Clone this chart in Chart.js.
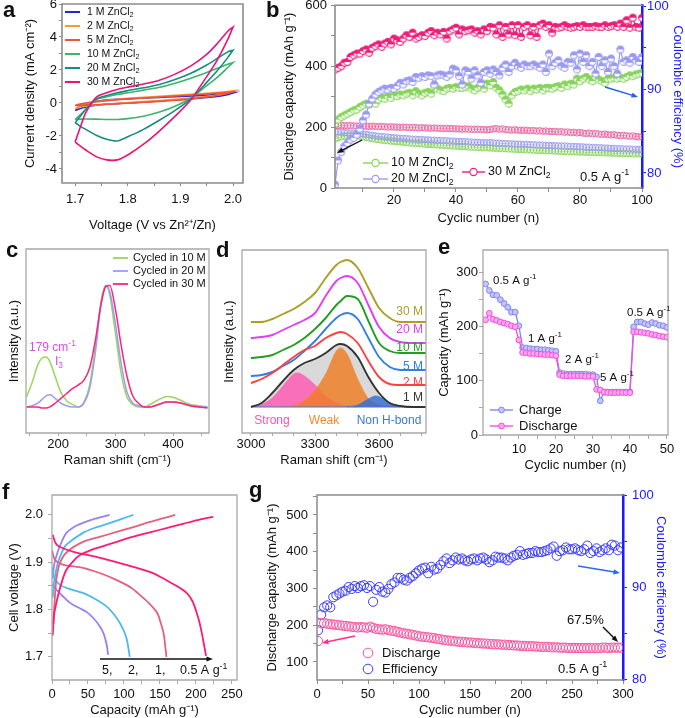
<!DOCTYPE html>
<html>
<head>
<meta charset="utf-8">
<title>ZnCl2 electrolyte figure</title>
<script src="https://cdn.jsdelivr.net/npm/chart.js@4.4.1/dist/chart.umd.min.js"></script>
<style>
  html, body { margin:0; padding:0; background:#ffffff; width:685px; height:718px; overflow:hidden; }
  canvas { position:absolute; display:block; }
</style>
</head>
<body>
<canvas id="cA"></canvas>
<canvas id="cB"></canvas>
<canvas id="cC"></canvas>
<canvas id="cD"></canvas>
<canvas id="cE"></canvas>
<canvas id="cF"></canvas>
<canvas id="cG"></canvas>
<script>
// ================= DATA =================
// (a) cyclic voltammetry: voltage sweep (forward then reverse) and current densities
const cvVoltage = [1.700,1.705,1.710,1.720,1.740,1.760,1.780,1.800,1.830,1.860,1.890,1.920,1.950,1.970,1.990,2.000,
                   2.000,1.990,1.970,1.950,1.920,1.890,1.860,1.830,1.800,1.780,1.760,1.740,1.720,1.710,1.705,1.700];
const cv1M  = [-0.45,-0.35,-0.25,-0.10,0.10,0.18,0.22,0.25,0.30,0.34,0.38,0.42,0.47,0.52,0.57,0.60,
               0.60,0.50,0.40,0.33,0.25,0.18,0.12,0.06,0.00,-0.04,-0.08,-0.14,-0.25,-0.33,-0.40,-0.45];
const cv2M  = [-0.35,-0.25,-0.15,-0.05,0.08,0.16,0.22,0.28,0.34,0.40,0.46,0.52,0.58,0.64,0.70,0.74,
               0.74,0.62,0.48,0.40,0.30,0.22,0.15,0.08,0.02,-0.02,-0.06,-0.12,-0.20,-0.26,-0.30,-0.35];
const cv5M  = [-0.15,-0.10,-0.05,0.00,0.08,0.14,0.20,0.25,0.30,0.36,0.42,0.48,0.55,0.60,0.65,0.68,
               0.68,0.58,0.45,0.36,0.25,0.17,0.10,0.04,-0.02,-0.05,-0.08,-0.11,-0.13,-0.14,-0.15,-0.15];
const cv10M = [-1.00,-0.85,-0.70,-0.40,0.20,0.38,0.52,0.62,0.78,0.95,1.20,1.50,1.85,2.10,2.35,2.45,
               2.45,2.15,1.55,1.05,0.30,-0.20,-0.55,-0.80,-0.95,-1.00,-1.00,-0.98,-0.97,-0.98,-0.99,-1.00];
const cv20M = [-1.20,-1.00,-0.80,-0.40,0.25,0.45,0.62,0.75,0.92,1.12,1.42,1.80,2.30,2.70,3.10,3.20,
               3.20,2.75,1.95,1.25,0.25,-0.45,-1.05,-1.60,-2.05,-2.30,-2.20,-1.95,-1.60,-1.42,-1.30,-1.20];
const cv30M = [-2.36,-1.90,-1.45,-0.60,0.35,0.62,0.82,0.96,1.15,1.38,1.75,2.25,2.95,3.60,4.35,4.60,
               4.60,3.85,2.60,1.60,0.20,-0.80,-1.70,-2.50,-3.15,-3.45,-3.45,-3.25,-2.85,-2.62,-2.50,-2.36];
const cvNames = ['1 M ZnCl_{2}','2 M ZnCl_{2}','5 M ZnCl_{2}','10 M ZnCl_{2}','20 M ZnCl_{2}','30 M ZnCl_{2}'];

// (b) cycling at 0.5 A g-1, cycles 1..100
const bCycleCount = 100;
const bCap10 = [160,165,168,170,171,172,172,171,170,168, 166,164,162,160,159,157,156,155,154,153,
  152,151,150,149,148,147,146,146,145,144, 143,143,142,141,141,140,139,139,138,137,
  137,136,136,135,134,134,133,133,132,132, 131,131,130,130,129,129,128,128,127,127,
  126,126,125,125,124,124,123,123,122,122, 122,121,121,120,120,119,119,119,118,118,
  118,117,117,117,116,116,116,115,115,115, 114,114,114,113,113,113,112,112,112,112];
const bCap20 = [185,184,183,182,181,180,180,179,178,177, 176,174,173,171,170,169,168,167,166,165,
  164,163,163,162,161,160,160,159,159,158, 158,157,157,156,156,155,155,154,154,153,
  153,152,152,151,151,150,150,149,149,148, 149,148,147,147,146,146,145,145,144,144,
  144,143,143,142,142,141,141,141,140,140, 139,139,138,138,138,137,137,136,136,135,
  135,134,134,133,133,132,132,131,131,130, 130,129,129,128,128,128,127,127,126,126];
const bCap30 = [206,205,206,205,204,205,204,203,204,203, 203,202,203,202,201,202,201,200,201,200,
  200,199,200,199,198,199,198,197,198,197, 197,196,197,196,196,195,196,195,195,194,
  194,193,194,193,193,192,193,192,192,191, 192,194,195,193,194,192,191,190,191,190,
  189,190,189,188,189,187,188,186,187,186, 185,186,184,185,183,184,182,183,181,182,
  180,179,180,178,179,177,176,177,175,174, 175,173,172,173,171,170,171,169,168,168];
const bCE10 = [85.9,86.4,86.7,86.9,87.1,87.3,87.5,87.6,87.9,88.1, 88.3,88.2,88.4,88.3,88.8,89.0,88.9,89.2,89.0,89.3,
  89.2,89.4,89.3,89.5,89.6,89.3,89.8,89.5,89.3,89.6, 89.7,89.5,90.4,90.1,89.9,89.8,90.1,90.2,90.1,90.3,
  90.2,90.2,90.3,90.4,90.1,89.9,90.2,90.3,90.1,90.7, 90.5,90.9,90.2,89.9,89.4,88.8,88.3,89.3,89.7,89.8,
  90.0,89.9,90.1,89.8,90.1,90.0,90.2,89.9,90.2,90.2, 90.1,90.3,90.4,90.2,90.6,90.4,90.7,90.6,91.3,91.0,
  91.3,91.5,91.2,91.0,91.5,91.2,91.0,90.8,91.3,91.3, 91.4,91.3,91.4,91.3,91.5,91.7,91.6,91.8,91.9,92.0];
const bCE20 = [78.6,81.5,82.5,83.2,83.6,84.0,84.2,84.6,85.3,86.3, 87.0,88.3,88.9,89.4,89.7,89.9,90.1,90.0,90.2,90.1,
  90.4,90.8,90.6,91.0,91.1,90.9,91.5,91.4,91.6,91.5, 91.7,91.6,90.6,91.7,91.8,91.7,91.5,91.8,92.5,92.3,
  91.6,90.6,92.3,92.1,91.3,92.3,91.7,90.8,92.1,92.3, 91.9,92.4,92.1,91.7,92.6,93.0,92.1,92.8,93.2,92.8,
  92.6,93.0,92.8,92.8,93.0,92.8,92.6,93.0,92.1,94.3, 92.8,93.2,93.5,92.8,92.6,93.3,93.2,94.1,92.4,94.3,
  93.3,94.1,92.8,93.3,91.9,93.9,92.8,93.5,92.1,93.7, 92.8,91.9,94.8,93.3,93.5,93.2,93.9,93.5,93.3,93.9];
const bCE30 = [92.4,92.6,92.8,93.2,93.3,93.9,94.1,94.3,94.3,94.6, 94.8,94.4,95.0,95.2,95.4,95.1,95.5,95.7,95.4,96.1,
  95.9,95.7,96.1,96.5,96.3,96.8,96.1,96.3,96.5,96.4, 96.8,97.0,96.5,96.8,96.6,96.9,96.1,97.0,97.2,97.4,
  96.6,97.2,97.0,97.1,97.2,96.8,97.0,96.6,97.2,97.0, 97.5,97.4,96.6,97.7,96.3,97.5,96.6,97.7,96.5,97.7,
  96.3,97.5,97.7,96.5,97.5,96.3,97.7,97.9,97.5,97.7, 96.8,97.5,97.4,97.5,97.7,97.5,97.4,97.5,97.6,97.5,
  97.7,97.5,97.5,97.5,97.6,97.5,97.5,97.7,97.5,97.6, 97.7,97.5,97.9,97.5,98.3,97.4,98.6,97.5,97.4,98.6];

// (c) Raman, low wavenumber (normalised)
const cShift = [145,155,165,172,179,186,195,205,215,225,235,245,255,265,275,283,290,300,310,320,330,340,350,360,375,390,400,415,430,445,460];
const c10M = [0.08,0.20,0.35,0.40,0.41,0.37,0.25,0.12,0.05,0.02,0.00,0.04,0.18,0.50,0.88,1.00,0.92,0.60,0.27,0.08,0.02,0.00,0.00,0.02,0.06,0.085,0.08,0.05,0.02,0.01,0.00];
const c20M = [0.00,0.01,0.03,0.06,0.09,0.10,0.07,0.03,0.01,0.00,0.00,0.03,0.15,0.45,0.85,1.00,0.95,0.68,0.35,0.12,0.03,0.01,0.00,0.00,0.02,0.04,0.04,0.03,0.01,0.00,0.00];
const c30M = [0.00,0.00,0.00,-0.01,-0.01,0.00,0.03,0.07,0.11,0.15,0.18,0.22,0.32,0.55,0.85,0.99,1.00,0.80,0.50,0.25,0.09,0.03,0.00,0.00,0.02,0.04,0.04,0.03,0.01,0.00,-0.01];
const cNames = ['Cycled in 10 M','Cycled in 20 M','Cycled in 30 M'];

// (d) Raman, O-H stretching (stacked, a.u.)
const dShift = [3000,3050,3100,3150,3200,3250,3300,3350,3400,3420,3450,3500,3550,3600,3650,3700,3760,3820];
const d1M  = [26,30,40,52,63,70,74,80,88,89,87,76,56,40,30,27,26,26];
const d2M  = [50,54,60,68,76,83,87,95,100,101,99,90,72,56,49,48,48,48];
const d5M  = [57,58,61,67,73,82,92,104,115,118,120,114,95,76,66,63,63,63];
const d10M = [75,76,78,83,88,95,104,115,128,132,137,134,112,90,82,80,80,80];
const d20M = [95,96,98,103,108,113,120,137,152,155,157,150,128,106,95,91,90,90];
const d30M = [111,111,114,119,124,131,140,155,168,171,173,165,145,125,115,111,111,111];
const dBase = 26;
const dStrongX = [3000,3050,3100,3150,3200,3220,3250,3300,3350,3400,3450,3500];
const dStrong  = [0.4,2.5,9,21,33,34,31,22,11,4,1,0];
const dWeakX = [3150,3200,3250,3300,3350,3400,3420,3450,3500,3550,3600,3650,3700];
const dWeak  = [0.3,1.8,6.5,17,33,56,59,53,28,8.5,2.2,0.4,0];
const dNonX = [3450,3500,3550,3585,3620,3650,3700,3750];
const dNon  = [0.1,1.9,8,11,8,4.1,0.8,0.1];

// (e) rate capability, cycles 1..50
const eCharge = [278,266,258,257,249,242,235,226,226,201, 161,160,159,158,158,157,157,156,155,154,
  115,113,112,112,112,112,112,112,111,111, 107,63,79,79,79,79,79,79,79,79,
  199,208,208,205,203,207,205,202,201,198];
const eDischarge = [212,224,213,211,208,206,204,201,199,175, 152,151,150,150,149,149,148,148,147,146,
  111,109,109,109,109,109,109,108,108,108, 84,83,79,78,78,78,78,78,78,78,
  190,190,189,188,187,185,184,182,181,180];

// (f) charge / discharge profiles
const f05ChgCap = [1,3,8,14,20,30,39,55,67,90,113,136,159,182,205,224];
const f05ChgV   = [1.745,1.79,1.827,1.86,1.884,1.903,1.915,1.926,1.932,1.943,1.954,1.963,1.972,1.981,1.99,1.996];
const f05DisCap = [1,5,11,30,67,113,140,159,175,187,195,201,205,208,211,214];
const f05DisV   = [1.958,1.94,1.932,1.922,1.909,1.89,1.877,1.862,1.848,1.835,1.818,1.793,1.772,1.751,1.727,1.702];
const f1ChgCap = [2,3,6,11,21,43,65,90,113,136,155,171];
const f1ChgV   = [1.77,1.8,1.863,1.898,1.922,1.943,1.953,1.964,1.974,1.985,1.993,2.0];
const f1DisCap = [0,4,15,43,70,90,110,122,135,146,151,155,159];
const f1DisV   = [1.926,1.905,1.895,1.888,1.875,1.862,1.846,1.831,1.813,1.793,1.772,1.75,1.70];
const f2ChgCap = [1,3,8,14,20,43,60,81,98,113];
const f2ChgV   = [1.825,1.86,1.898,1.922,1.937,1.962,1.973,1.983,1.992,2.0];
const f2DisCap = [0,3,11,25,43,60,76,86,94,100,104,108];
const f2DisV   = [1.888,1.868,1.852,1.843,1.835,1.822,1.806,1.79,1.772,1.754,1.736,1.70];
const f5ChgCap = [1,3,8,14,20,30,43,60,80];
const f5ChgV   = [1.865,1.895,1.922,1.945,1.962,1.974,1.983,1.992,2.0];
const f5DisCap = [0,2,6,15,25,38,48,58,67,72,76,78];
const f5DisV   = [1.854,1.85,1.842,1.828,1.814,1.803,1.795,1.781,1.763,1.748,1.725,1.704];

// (g) long cycling, every 3rd cycle from 1 to 298
const gFirstCycle = 1, gCycleStep = 3;
const gDischarge = [157,205,206,204,203,202,201,200,199,198, 197,196,195,194,195,194,193,196,193,190,
  189,188,189,187,185,184,182,180,178,177, 175,174,172,170,169,168,167,166,165,163,
  162,160,159,158,157,156,155,155,154,153, 153,152,151,151,150,150,149,149,148,148,
  147,147,146,146,145,145,144,144,143,143, 143,142,142,141,141,141,140,140,140,139,
  139,139,138,138,138,138,138,138,138,138, 138,138,138,139,139,138,139,139,139,139];
const gEfficiency = [85.3,87.0,87.8,88.0,87.8,88.9,89.1,89.3,89.5,89.6, 90.0,89.8,90.1,89.9,90.1,90.2,89.9,90.1,88.4,89.7,
  90.0,89.5,89.4,89.8,90.3,90.5,91.0,91.0,90.8,90.7, 91.0,91.2,91.5,91.8,92.0,92.1,91.5,92.2,91.9,92.0,
  92.4,92.8,93.1,92.6,92.9,93.2,93.0,93.1,92.9,92.8, 93.0,93.1,92.9,93.1,93.2,93.0,92.7,92.9,93.3,93.2,
  93.2,93.1,92.9,93.2,93.4,93.5,93.9,93.5,93.6,93.7, 93.7,93.9,93.8,93.8,93.9,94.0,94.2,94.4,93.4,93.9,
  94.0,94.3,94.1,94.1,94.2,94.0,93.9,94.1,94.5,93.7, 93.9,94.2,93.8,94.0,94.2,94.0,94.6,94.5,94.0,94.3];

// ================= HELPERS =================
const FONT = '"Liberation Sans", Arial, Helvetica, sans-serif';
Chart.defaults.font.family = FONT;
Chart.defaults.font.size = 13;
Chart.defaults.color = '#111';
Chart.defaults.animation = false;
Chart.defaults.responsive = false;
Chart.defaults.maintainAspectRatio = false;
Chart.defaults.events = [];
Chart.defaults.plugins.legend.display = false;
Chart.defaults.plugins.tooltip.enabled = false;

function place(id, left, top, w, h) {
  const c = document.getElementById(id);
  c.width = w; c.height = h;
  c.style.left = left + 'px'; c.style.top = top + 'px';
  c.style.width = w + 'px'; c.style.height = h + 'px';
  return c;
}
const pts = (xs, ys, off) => xs.map((x, i) => ({x: x, y: ys[i] + (off || 0)}));

function parseRich(s) {
  const segs = []; let buf = ''; let i = 0;
  while (i < s.length) {
    const ch = s[i];
    if ((ch === '^' || ch === '_') && s[i + 1] === '{') {
      if (buf) { segs.push({t: buf, m: 0}); buf = ''; }
      const j = s.indexOf('}', i);
      segs.push({t: s.slice(i + 2, j), m: ch === '^' ? 1 : -1});
      i = j + 1;
    } else { buf += ch; i++; }
  }
  if (buf) segs.push({t: buf, m: 0});
  return segs;
}
function drawRich(ctx, s, x, y, size, color, align, bold, bl) {
  const segs = parseRich(s);
  const wt = bold ? 'bold ' : '';
  const fN = wt + size + 'px ' + FONT;
  const fS = wt + (size * 0.7).toFixed(1) + 'px ' + FONT;
  let total = 0, prev = null;
  segs.forEach(g => {
    ctx.font = g.m ? fS : fN; g.w = ctx.measureText(g.t).width;
    g.stack = prev && prev.m === -1 && g.m === 1;
    total += g.stack ? Math.max(0, g.w - prev.w) : g.w;
    prev = g;
  });
  let cx = align === 'center' ? x - total / 2 : align === 'right' ? x - total : x;
  ctx.fillStyle = color; ctx.textAlign = 'left'; ctx.textBaseline = bl || 'middle';
  prev = null;
  segs.forEach(g => {
    ctx.font = g.m ? fS : fN;
    if (g.stack) cx -= prev.w;
    const dy = g.m === 1 ? -size * 0.36 : g.m === -1 ? size * 0.3 : 0;
    ctx.fillText(g.t, cx, y + dy);
    cx += g.stack ? Math.max(g.w, prev.w) : g.w;
    prev = g;
  });
}
function drawArrow(ctx, x1, y1, x2, y2, color, w, head) {
  const ang = Math.atan2(y2 - y1, x2 - x1);
  ctx.strokeStyle = color; ctx.fillStyle = color; ctx.lineWidth = w;
  ctx.beginPath(); ctx.moveTo(x1, y1); ctx.lineTo(x2 - head * 0.8 * Math.cos(ang), y2 - head * 0.8 * Math.sin(ang)); ctx.stroke();
  ctx.beginPath(); ctx.moveTo(x2, y2);
  ctx.lineTo(x2 - head * Math.cos(ang - 0.38), y2 - head * Math.sin(ang - 0.38));
  ctx.lineTo(x2 - head * Math.cos(ang + 0.38), y2 - head * Math.sin(ang + 0.38));
  ctx.closePath(); ctx.fill();
}
function overlay(cfg) {
  return {
    id: 'overlay',
    afterDatasetsDraw(chart) {
      const f = cfg.frame; if (!f) return;
      const a = chart.chartArea, ctx = chart.ctx, s = f.sides || 'tlbr';
      ctx.save(); ctx.strokeStyle = f.color; ctx.lineWidth = f.width; ctx.lineCap = 'square';
      ctx.beginPath();
      if (s.includes('t')) { ctx.moveTo(a.left, a.top); ctx.lineTo(a.right, a.top); }
      if (s.includes('b')) { ctx.moveTo(a.left, a.bottom); ctx.lineTo(a.right, a.bottom); }
      if (s.includes('l')) { ctx.moveTo(a.left, a.top); ctx.lineTo(a.left, a.bottom); }
      if (s.includes('r')) { ctx.moveTo(a.right, a.top); ctx.lineTo(a.right, a.bottom); }
      ctx.stroke(); ctx.restore();
    },
    afterDraw(chart) {
      const ctx = chart.ctx, ox = cfg.ox, oy = cfg.oy;
      (cfg.items || []).forEach(it => {
        ctx.save();
        if (it.t === 'text') drawRich(ctx, it.s, it.x - ox, it.y - oy, it.size || 13, it.color || '#111', it.align || 'left', it.bold, it.bl);
        else if (it.t === 'arrow') drawArrow(ctx, it.x1 - ox, it.y1 - oy, it.x2 - ox, it.y2 - oy, it.color || '#111', it.w || 1.4, it.head || 7);
        else if (it.t === 'seg') { ctx.strokeStyle = it.color; ctx.lineWidth = it.w || 1.8; ctx.beginPath(); ctx.moveTo(it.x1 - ox, it.y - oy); ctx.lineTo(it.x2 - ox, it.y - oy); ctx.stroke(); }
        else if (it.t === 'dot') {
          ctx.beginPath(); ctx.arc(it.x - ox, it.y - oy, it.r, 0, Math.PI * 2);
          if (it.fill) { ctx.fillStyle = it.fill; ctx.fill(); }
          if (it.stroke) { ctx.strokeStyle = it.stroke; ctx.lineWidth = it.w || 1; ctx.stroke(); }
        }
        ctx.restore();
      });
    }
  };
}
function ax(o) {
  return {
    type: 'linear', position: o.pos, min: o.min, max: o.max, offset: false,
    afterBuildTicks: s => {
      const t = []; const n = Math.round((o.to - o.from) / o.step);
      for (let i = 0; i <= n; i++) t.push({value: +(o.from + i * o.step).toFixed(6)});
      s.ticks = t;
    },
    afterFit: s => {
      if (s.isHorizontal()) s.height = o.size; else s.width = o.size;
      s.paddingLeft = 0; s.paddingRight = 0; s.paddingTop = 0; s.paddingBottom = 0;
    },
    grid: {display: o.noTicks ? false : true, drawOnChartArea: false, drawTicks: true, tickLength: o.tl || 4,
           color: o.color || '#8c8c8c', lineWidth: o.tw || 1},
    border: {display: !!o.border, color: o.color || '#8c8c8c', width: o.bw || 1.5},
    ticks: {display: o.labels !== false, autoSkip: false, maxRotation: 0, minRotation: 0, padding: o.tp || 3,
            color: o.lc || '#111', font: {size: o.fs || 13},
            callback: v => { const r = v / o.major; return Math.abs(r - Math.round(r)) < 1e-6 ? (o.fmt ? o.fmt(v) : String(v)) : ''; }},
    title: {display: !!o.title, text: o.title || '', color: o.lc || '#111', font: {size: o.ts || 13},
            padding: {top: o.pt || 0, bottom: o.pt || 0}}
  };
}
function halfImg(color, r) {
  const s = Math.ceil(2 * r + 3), c = document.createElement('canvas');
  c.width = s; c.height = s;
  const g = c.getContext('2d'), m = s / 2;
  g.fillStyle = '#ffffff'; g.beginPath(); g.arc(m, m, r, 0, Math.PI * 2); g.fill();
  g.fillStyle = color; g.beginPath(); g.arc(m, m, r, Math.PI, Math.PI * 2); g.closePath(); g.fill();
  g.strokeStyle = color; g.lineWidth = 1.1; g.beginPath(); g.arc(m, m, r, 0, Math.PI * 2); g.stroke();
  return c;
}
const GRAY = '#8c8c8c', LGRAY = '#a8a8a8', BLUE = '#1a1aff';

// ================= (a) =================
(function () {
  const ox = 0, oy = 0;
  place('cA', ox, oy, 250, 240);
  const cols = ['#2424e6', '#f59a30', '#f5503c', '#3cb46a', '#168c82', '#ea1478'];
  const series = [cv1M, cv2M, cv5M, cv10M, cv20M, cv30M];
  const ds = series.map((cur, i) => ({
    data: pts(cvVoltage, cur), showLine: true, borderColor: cols[i], borderWidth: 1.6,
    pointRadius: 0, tension: 0.25, order: 6 - i
  }));
  const rows = [12, 26, 40, 54, 68, 82];
  const items = [{t: 'text', s: 'a', x: 3, y: 17, size: 22, bold: true, bl: 'alphabetic'}];
  cvNames.forEach((n, i) => {
    items.push({t: 'seg', x1: 65, x2: 80, y: rows[i], color: cols[i], w: 2});
    items.push({t: 'text', s: n, x: 87, y: rows[i], size: 10.5});
  });
  new Chart('cA', {
    type: 'scatter', data: {datasets: ds},
    options: {
      layout: {padding: {left: 0, top: 4, right: 7, bottom: 0}},
      scales: {
        x: ax({pos: 'bottom', min: 1.675, max: 2.019, from: 1.7, to: 2.0, step: 0.05, major: 0.1, fmt: v => v.toFixed(1),
               size: 57, tl: 3, tp: 6, title: 'Voltage (V vs Zn²⁺/Zn)', pt: 7}),
        y: ax({pos: 'left', min: -4.85, max: 6, from: -4, to: 6, step: 1, major: 2,
               size: 62, tl: 3, tp: 2, title: 'Current density (mA cm⁻²)', pt: 23})
      }
    },
    plugins: [overlay({ox, oy, frame: {color: GRAY, width: 1.6}, items})]
  });
})();

// ================= (b) =================
(function () {
  const ox = 255, oy = 0;
  place('cB', ox, oy, 430, 240);
  const cyc = Array.from({length: bCycleCount}, (_, i) => i + 1);
  const g10 = '#86d45a', g20 = '#9a9af2', g30 = '#ee1d78', g30c = '#f0609e';
  const ce = (vals, col, ord) => ({data: pts(cyc, vals), yAxisID: 'y1', showLine: true, borderColor: col, borderWidth: 1.2,
    pointStyle: halfImg(col, 3.4), pointRadius: 3.4, order: ord});
  const cap = (vals, col, ord) => ({data: pts(cyc, vals), yAxisID: 'y', showLine: true, borderColor: col, borderWidth: 0.6,
    pointStyle: 'circle', pointRadius: 3.2, pointBorderWidth: 0.9, pointBorderColor: col,
    pointBackgroundColor: 'rgba(255,255,255,0)', order: ord});
  const ds = [ce(bCE30, g30, 1), ce(bCE20, g20, 2), ce(bCE10, g10, 3),
              cap(bCap30, g30c, 4), cap(bCap20, g20, 5), cap(bCap10, g10, 6)];
  const items = [
    {t: 'text', s: 'b', x: 266, y: 17, size: 22, bold: true, bl: 'alphabetic'},
    {t: 'arrow', x1: 362, y1: 140, x2: 337, y2: 153, color: '#111', w: 1.4, head: 7},
    {t: 'arrow', x1: 605, y1: 87, x2: 638, y2: 97, color: '#2060f0', w: 1.5, head: 7},
    {t: 'seg', x1: 363, x2: 388, y: 163, color: g10, w: 1.4},
    {t: 'dot', x: 375.5, y: 163, r: 3.6, stroke: g10, fill: '#fff', w: 1.1},
    {t: 'text', s: '10 M ZnCl_{2}', x: 391, y: 163, size: 12.5},
    {t: 'seg', x1: 363, x2: 388, y: 179, color: g20, w: 1.4},
    {t: 'dot', x: 375.5, y: 179, r: 3.6, stroke: g20, fill: '#fff', w: 1.1},
    {t: 'text', s: '20 M ZnCl_{2}', x: 391, y: 179, size: 12.5},
    {t: 'seg', x1: 462, x2: 485, y: 172, color: g30, w: 1.4},
    {t: 'dot', x: 473.5, y: 172, r: 3.6, stroke: g30, fill: '#fff', w: 1.1},
    {t: 'text', s: '30 M ZnCl_{2}', x: 488, y: 172, size: 12.5},
    {t: 'text', s: '0.5 A g^{-1}', x: 580, y: 177, size: 13}
  ];
  new Chart('cB', {
    type: 'scatter', data: {datasets: ds},
    options: {
      layout: {padding: {left: 0, top: 5, right: 0, bottom: 0}},
      scales: {
        x: ax({pos: 'bottom', min: 1, max: 100, from: 10, to: 100, step: 10, major: 20,
               size: 52, tl: 4, tp: 1, title: 'Cyclic number (n)', pt: 14}),
        y: ax({pos: 'left', min: 0, max: 600, from: 0, to: 600, step: 100, major: 200,
               size: 80, tl: 4, tp: 4, title: 'Discharge capacity (mAh g⁻¹)', pt: 27}),
        y1: ax({pos: 'right', min: 78.2, max: 100.1, from: 80, to: 100, step: 5, major: 10,
                size: 43, tl: 4, tp: 1, title: 'Coulombic efficiency (%)', pt: 0,
                color: BLUE, lc: BLUE, border: true, bw: 2.5})
      }
    },
    plugins: [overlay({ox, oy, frame: {color: GRAY, width: 1.6, sides: 'tlb'}, items})]
  });
})();

// ================= (c) =================
(function () {
  const ox = 0, oy = 240;
  place('cC', ox, oy, 225, 238);
  const cols = ['#9ad65c', '#9c9cf5', '#ff2478'];
  const series = [c10M, c20M, c30M];
  const ds = series.map((v, i) => ({data: pts(cShift, v), showLine: true, borderColor: cols[i], borderWidth: 1.5,
    pointRadius: 0, cubicInterpolationMode: 'monotone', order: 3 - i}));
  const rows = [258, 271, 284];
  const items = [{t: 'text', s: 'c', x: 6, y: 257, size: 22, bold: true, bl: 'alphabetic'},
    {t: 'text', s: '179 cm^{-1}', x: 29, y: 348, size: 12, color: '#dc4cf0'},
    {t: 'text', s: 'I_{3}^{-}', x: 55, y: 362, size: 12, color: '#dc4cf0'}];
  cNames.forEach((n, i) => {
    items.push({t: 'seg', x1: 113, x2: 128, y: rows[i], color: cols[i], w: 1.8});
    items.push({t: 'text', s: n, x: 133, y: rows[i], size: 11});
  });
  new Chart('cC', {
    type: 'scatter', data: {datasets: ds},
    options: {
      layout: {padding: {left: 0, top: 9, right: 16, bottom: 0}},
      scales: {
        x: ax({pos: 'bottom', min: 144.3, max: 462.6, from: 150, to: 450, step: 50, major: 100,
               size: 45, tl: 3, tp: 1, title: 'Raman shift (cm⁻¹)', pt: 10, color: LGRAY}),
        y: ax({pos: 'left', min: -0.215, max: 1.3, from: 0, to: 1, step: 1, major: 1, labels: false, noTicks: true,
               size: 26, title: 'Intensity (a.u.)', pt: 7})
      }
    },
    plugins: [overlay({ox, oy, frame: {color: LGRAY, width: 1.3}, items})]
  });
})();

// ================= (d) =================
(function () {
  const ox = 210, oy = 240;
  place('cD', ox, oy, 230, 238);
  const lineCols = ['#333333', '#ff4040', '#2f7fe8', '#1f9e1f', '#e040f5', '#ad9e23'];
  const curves = [d1M, d2M, d5M, d10M, d20M, d30M];
  const ds = [
    {data: pts(dShift, d1M), showLine: true, borderWidth: 0, borderColor: 'rgba(0,0,0,0)', backgroundColor: '#d9d9d9',
     fill: {value: dBase}, pointRadius: 0, tension: 0.35, order: 20},
    {data: pts(dStrongX, dStrong, dBase), showLine: true, borderWidth: 0.6, borderColor: '#ff5ab4', backgroundColor: 'rgba(255,92,180,0.85)',
     fill: {value: dBase}, pointRadius: 0, cubicInterpolationMode: 'monotone', order: 19},
    {data: pts(dWeakX, dWeak, dBase), showLine: true, borderWidth: 0.6, borderColor: '#f08a30', backgroundColor: 'rgba(240,125,35,0.82)',
     fill: {value: dBase}, pointRadius: 0, cubicInterpolationMode: 'monotone', order: 18},
    {data: pts(dNonX, dNon, dBase), showLine: true, borderWidth: 0.8, borderColor: '#3a7ad8', backgroundColor: 'rgba(45,105,215,0.8)',
     fill: {value: dBase}, pointRadius: 0, cubicInterpolationMode: 'monotone', order: 17},
    {data: [{x: dShift[0], y: dBase}, {x: dShift[dShift.length - 1], y: dBase}], showLine: true, borderWidth: 1.2,
     borderColor: '#3a7ad8', pointRadius: 0, order: 16}
  ];
  curves.forEach((v, i) => ds.push({data: pts(dShift, v), showLine: true, borderColor: lineCols[i], borderWidth: 1.9,
    pointRadius: 0, cubicInterpolationMode: 'monotone', order: 1 + i}));
  const labs = [['1 M', 398], ['2 M', 383], ['5 M', 367], ['10 M', 348], ['20 M', 330], ['30 M', 312]];
  const items = [{t: 'text', s: 'd', x: 216, y: 257, size: 22, bold: true, bl: 'alphabetic'},
    {t: 'text', s: 'Strong', x: 272, y: 421, size: 12, color: '#ff4fb4', align: 'center'},
    {t: 'text', s: 'Weak', x: 324, y: 421, size: 12, color: '#f08a30', align: 'center'},
    {t: 'text', s: 'Non H-bond', x: 389, y: 421, size: 12, color: '#3a7ad8', align: 'center'}];
  labs.forEach((l, i) => items.push({t: 'text', s: l[0], x: 423, y: l[1], size: 12, color: lineCols[i], align: 'right'}));
  new Chart('cD', {
    type: 'scatter', data: {datasets: ds},
    options: {
      layout: {padding: {left: 0, top: 10, right: 14, bottom: 0}},
      scales: {
        x: ax({pos: 'bottom', min: 2958, max: 3820, from: 3000, to: 3800, step: 100, major: 300,
               size: 45, tl: 3, tp: 1, title: 'Raman shift (cm⁻¹)', pt: 10, color: LGRAY}),
        y: ax({pos: 'left', min: 0, max: 183, from: 0, to: 100, step: 100, major: 100, labels: false, noTicks: true,
               size: 32, title: 'Intensity (a.u.)', pt: 12})
      }
    },
    plugins: [overlay({ox, oy, frame: {color: LGRAY, width: 1.3}, items})]
  });
})();

// ================= (e) =================
(function () {
  const ox = 436, oy = 240;
  place('cE', ox, oy, 249, 238);
  const cyc = Array.from({length: eCharge.length}, (_, i) => i + 1);
  const cC = '#8383ee', cD = '#f04fdc';
  const ds = [
    {data: pts(cyc, eDischarge), showLine: true, borderColor: cD, borderWidth: 1.3, pointRadius: 2.9,
     pointBackgroundColor: '#ffa8f2', pointBorderColor: cD, pointBorderWidth: 1, order: 1},
    {data: pts(cyc, eCharge), showLine: true, borderColor: cC, borderWidth: 1.3, pointRadius: 2.9,
     pointBackgroundColor: '#c4c4ff', pointBorderColor: cC, pointBorderWidth: 1, order: 2}
  ];
  const items = [{t: 'text', s: 'e', x: 438, y: 254, size: 22, bold: true, bl: 'alphabetic'},
    {t: 'text', s: '0.5 A g^{-1}', x: 493, y: 281, size: 11.5},
    {t: 'text', s: '1 A g^{-1}', x: 528, y: 339, size: 11.5},
    {t: 'text', s: '2 A g^{-1}', x: 565, y: 360, size: 11.5},
    {t: 'text', s: '5 A g^{-1}', x: 600, y: 378, size: 11.5},
    {t: 'text', s: '0.5 A g^{-1}', x: 627, y: 313, size: 11.5},
    {t: 'seg', x1: 490, x2: 513, y: 410, color: cC, w: 1.4},
    {t: 'dot', x: 501.5, y: 410, r: 2.9, fill: '#c4c4ff', stroke: cC},
    {t: 'text', s: 'Charge', x: 519, y: 410, size: 13},
    {t: 'seg', x1: 490, x2: 513, y: 426, color: cD, w: 1.4},
    {t: 'dot', x: 501.5, y: 426, r: 2.9, fill: '#ffa8f2', stroke: cD},
    {t: 'text', s: 'Discharge', x: 519, y: 426, size: 13}];
  new Chart('cE', {
    type: 'scatter', data: {datasets: ds},
    options: {
      layout: {padding: {left: 0, top: 10, right: 17, bottom: 0}},
      scales: {
        x: ax({pos: 'bottom', min: 0.3, max: 50.3, from: 5, to: 50, step: 5, major: 10,
               size: 43, tl: 4, tp: 3, title: 'Cyclic number (n)', pt: 5, color: LGRAY}),
        y: ax({pos: 'left', min: 0, max: 340.5, from: 0, to: 300, step: 50, major: 100,
               size: 47, tl: 4, tp: 1, title: 'Capacity (mAh g⁻¹)', pt: 1, color: LGRAY})
      }
    },
    plugins: [overlay({ox, oy, frame: {color: LGRAY, width: 1.3}, items})]
  });
})();

// ================= (f) =================
(function () {
  const ox = 0, oy = 478;
  place('cF', ox, oy, 255, 240);
  const c05 = '#ff1a75', c1 = '#e3607f', c2 = '#4db8f2', c5 = '#9a80f0';
  const ln = (xs, ys, col, ord) => ({data: pts(xs, ys), showLine: true, borderColor: col, borderWidth: 1.8,
    pointRadius: 0, tension: 0.3, order: ord});
  const ds = [ln(f05ChgCap, f05ChgV, c05, 1), ln(f05DisCap, f05DisV, c05, 1),
              ln(f1ChgCap, f1ChgV, c1, 2), ln(f1DisCap, f1DisV, c1, 2),
              ln(f2ChgCap, f2ChgV, c2, 3), ln(f2DisCap, f2DisV, c2, 3),
              ln(f5ChgCap, f5ChgV, c5, 4), ln(f5DisCap, f5DisV, c5, 4)];
  const items = [{t: 'text', s: 'f', x: 2, y: 499, size: 22, bold: true, bl: 'alphabetic'},
    {t: 'arrow', x1: 100, y1: 659, x2: 213, y2: 659, color: '#111', w: 1.4, head: 7},
    {t: 'text', s: '5,', x: 102, y: 671, size: 12.5},
    {t: 'text', s: '2,', x: 128, y: 671, size: 12.5},
    {t: 'text', s: '1,', x: 155, y: 671, size: 12.5},
    {t: 'text', s: '0.5 A g^{-1}', x: 180, y: 671, size: 12.5}];
  new Chart('cF', {
    type: 'scatter', data: {datasets: ds},
    options: {
      layout: {padding: {left: 0, top: 17, right: 18, bottom: 0}},
      scales: {
        x: ax({pos: 'bottom', min: 0, max: 257, from: 0, to: 250, step: 25, major: 50,
               size: 38, tl: 4, tp: 3, title: 'Capacity (mAh g⁻¹)', pt: 0, color: LGRAY}),
        y: ax({pos: 'left', min: 1.651, max: 2.042, from: 1.7, to: 2.0, step: 0.05, major: 0.1, fmt: v => v.toFixed(1),
               size: 52, tl: 4, tp: 5, title: 'Cell voltage (V)', pt: 7, color: LGRAY})
      }
    },
    plugins: [overlay({ox, oy, frame: {color: LGRAY, width: 1.3}, items})]
  });
})();

// ================= (g) =================
(function () {
  const ox = 248, oy = 478;
  place('cG', ox, oy, 437, 240);
  const cyc = Array.from({length: gDischarge.length}, (_, i) => gFirstCycle + i * gCycleStep);
  const cP = '#ff4f9c', cB = '#3b3bff';
  const ds = [
    {data: pts(cyc, gEfficiency), yAxisID: 'y1', showLine: false, pointRadius: 4.6, pointBorderWidth: 1,
     pointBorderColor: cB, pointBackgroundColor: 'rgba(255,255,255,0)', order: 2},
    {data: pts(cyc, gDischarge), yAxisID: 'y', showLine: false, pointRadius: 4.6, pointBorderWidth: 1,
     pointBorderColor: cP, pointBackgroundColor: 'rgba(255,255,255,0)', order: 1}
  ];
  const items = [{t: 'text', s: 'g', x: 249, y: 497, size: 22, bold: true, bl: 'alphabetic'},
    {t: 'text', s: '67.5%', x: 567, y: 620, size: 13},
    {t: 'arrow', x1: 603, y1: 627, x2: 618, y2: 642, color: '#111', w: 1.4, head: 7},
    {t: 'arrow', x1: 355, y1: 636, x2: 322, y2: 643, color: '#ff2d8a', w: 1.5, head: 7},
    {t: 'arrow', x1: 578, y1: 566, x2: 620, y2: 573, color: '#2a6af0', w: 1.5, head: 7},
    {t: 'dot', x: 368, y: 653, r: 4.8, stroke: cP, w: 1},
    {t: 'text', s: 'Discharge', x: 382, y: 653, size: 13},
    {t: 'dot', x: 368, y: 669, r: 4.8, stroke: cB, w: 1},
    {t: 'text', s: 'Efficiency', x: 382, y: 669, size: 13},
    {t: 'text', s: '0.5 A g^{-1}', x: 558, y: 669, size: 13}];
  new Chart('cG', {
    type: 'scatter', data: {datasets: ds},
    options: {
      layout: {padding: {left: 0, top: 17, right: 0, bottom: 0}},
      scales: {
        x: ax({pos: 'bottom', min: 0, max: 300, from: 0, to: 300, step: 25, major: 50,
               size: 38, tl: 4, tp: 3, title: 'Cyclic number (n)', pt: 0}),
        y: ax({pos: 'left', min: 51, max: 554.4, from: 100, to: 550, step: 50, major: 100,
               size: 69, tl: 4, tp: 5, title: 'Discharge capacity (mAh g⁻¹)', pt: 17}),
        y1: ax({pos: 'right', min: 79.9, max: 100, from: 80, to: 100, step: 5, major: 10,
                size: 62, tl: 4, tp: 5, title: 'Coulombic efficiency (%)', pt: 17,
                color: BLUE, lc: BLUE, border: true, bw: 2.5})
      }
    },
    plugins: [overlay({ox, oy, frame: {color: GRAY, width: 1.5, sides: 'tlb'}, items})]
  });
})();
</script>
</body>
</html>
